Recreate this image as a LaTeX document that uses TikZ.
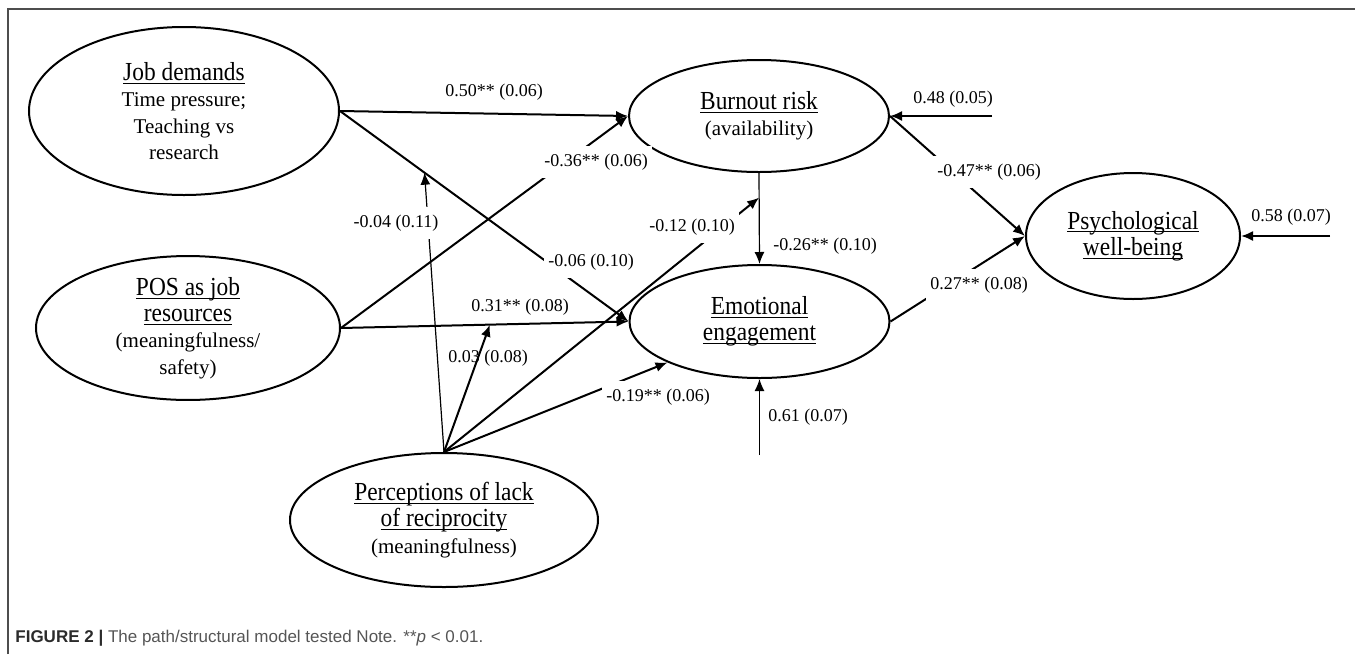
\documentclass[tikz,border=0pt]{standalone}
\usepackage{fontspec}
\setmainfont{Liberation Serif}
\newfontfamily\titlefont{Liberation Serif}[FakeStretch=0.9]
\newfontfamily\capfont{Liberation Sans}
\usetikzlibrary{arrows.meta,shapes}

\definecolor{framegray}{HTML}{4D4D4D}
\definecolor{capdark}{HTML}{2B2B2B}
\definecolor{capgray}{HTML}{555555}
\newcommand{\ttl}[1]{{\titlefont\fontsize{13}{13.2}\selectfont\underline{\smash{#1}}\vphantom{#1}}}

\begin{document}
\begin{tikzpicture}[x=0.5pt,y=-0.5pt,
  latent/.style={ellipse,draw,line width=1pt,inner sep=0pt,align=center,
    font=\fontsize{10.5}{13.2}\selectfont},
  link/.style={-{Latex[length=6pt,width=5pt]},line width=1pt},
  thin link/.style={link,line width=0.6pt},
  coef/.style={font=\fontsize{9}{10}\selectfont,inner sep=1pt},
  coef box/.style={coef,fill=white,inner xsep=2pt,inner ysep=4pt}]

  \useasboundingbox (0,0) rectangle (1355,654);
  \draw[framegray,line width=0.8pt] (8,654) -- (8,9) -- (1355,9);

  % latent variables
  \node[latent,minimum width=155pt,minimum height=84pt] (jd) at (184,111)
    {\ttl{Job demands}\\Time pressure;\\Teaching vs\\research};
  \node[latent,minimum width=152pt,minimum height=66pt] (pos) at (188,328)
    {\ttl{POS as job}\\\ttl{resources}\\(meaningfulness/\\safety)};
  \node[latent,minimum width=154pt,minimum height=67pt] (plr) at (444,520)
    {\ttl{Perceptions of lack}\\\ttl{of reciprocity}\\(meaningfulness)};
  \node[latent,minimum width=130pt,minimum height=56pt] (br) at (759,116)
    {\ttl{Burnout risk}\\(availability)};
  \node[latent,minimum width=130pt,minimum height=56.5pt] (ee) at (759.5,321.5)
    {\ttl{Emotional}\\\ttl{engagement}};
  \node[latent,minimum width=107pt,minimum height=63pt] (pwb) at (1133,236)
    {\ttl{Psychological}\\\ttl{well-being}};

  % residual starts
  \coordinate (rbr) at (992,116);
  \coordinate (rpwb) at (1330,236);
  \coordinate (ree) at (759.5,455);

  % paths
  \draw[link] (jd.east) -- (br.west);
  \draw[link] (jd.east) -- coordinate[pos=0.293] (mjd) (ee.west);
  \draw[link] (pos.east) -- (br.west);
  \draw[link] (pos.east) -- coordinate[pos=0.518] (mpos) (ee.west);
  \draw[thin link] (br.south) -- coordinate[pos=0.27] (mbr) (ee.north);
  \draw[link] (br.east) -- (pwb.west);
  \draw[link] (ee.east) -- (pwb.west);

  % moderation by lack of reciprocity
  \draw[thin link] (plr.north) -- (mjd);
  \draw[link] (plr.north) -- (mpos);
  \draw[link] (plr.north) -- (mbr);
  \draw[link] (plr.north) -- (ee.204);

  % residuals
  \draw[link] (rbr) -- (br.east);
  \draw[link] (rpwb) -- (pwb.east);
  \draw[thin link] (ree) -- (ee.south);

  % coefficients
  \node[coef] (c050) at (494,92) {0.50** (0.06)};
  \node[coef box] (c006) at (591,262) {-0.06 (0.10)};
  \node[coef box] (c036) at (596,162) {-0.36** (0.06)};
  \node[coef] (c031) at (520,307) {0.31** (0.08)};
  \node[coef box] (c004) at (396,223) {-0.04 (0.11)};
  \node[coef] (c003) at (488,358) {0.03 (0.08)};
  \node[coef box] (c012) at (692,227) {-0.12 (0.10)};
  \node[coef box] (c019) at (658,397) {-0.19** (0.06)};
  \node[coef] (c026) at (825,246) {-0.26** (0.10)};
  \node[coef box] (c047) at (989,172) {-0.47** (0.06)};
  \node[coef box] (c027) at (979,285) {0.27** (0.08)};
  \node[coef] (c048) at (953,99) {0.48 (0.05)};
  \node[coef] (c058) at (1291,217) {0.58 (0.07)};
  \node[coef] (c061) at (808,417) {0.61 (0.07)};

  \node[anchor=west,inner sep=0pt,font=\capfont\fontsize{8.5}{10}\selectfont] (caption) at (15,638)
    {\textcolor{capdark}{\textbf{FIGURE 2 |}} \textcolor{capgray}{The path/structural model tested Note. **\textit{p} < 0.01.}};
\end{tikzpicture}
\end{document}
